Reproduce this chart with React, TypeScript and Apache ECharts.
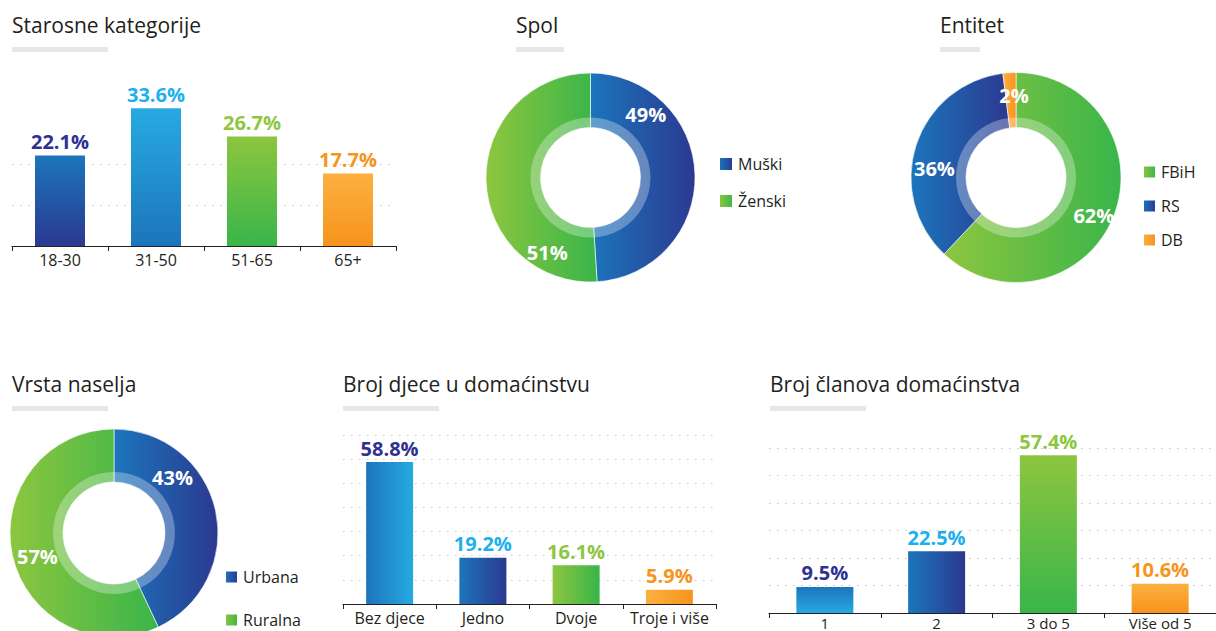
import React, { useEffect, useRef } from "react";
import * as echarts from "echarts";

// ---------- data ----------
const ageCategories = ["18-30", "31-50", "51-65", "65+"];
const ageValues = [22.1, 33.6, 26.7, 17.7];

const genderNames = ["Muški", "Ženski"];
const genderValues = [49, 51];

const entityNames = ["FBiH", "RS", "DB"];
const entityValues = [62, 36, 2];

const settlementNames = ["Urbana", "Ruralna"];
const settlementValues = [43, 57];

const childrenCategories = ["Bez djece", "Jedno", "Dvoje", "Troje i više"];
const childrenValues = [58.8, 19.2, 16.1, 5.9];

const memberCategories = ["1", "2", "3 do 5", "Više od 5"];
const memberValues = [9.5, 22.5, 57.4, 10.6];

const titles = [
  "Starosne kategorije",
  "Spol",
  "Entitet",
  "Vrsta naselja",
  "Broj djece u domaćinstvu",
  "Broj članova domaćinstva",
];

// ---------- styles ----------
const FONT = "'Open Sans', 'Noto Sans', sans-serif";
const TEXT = "#231f20";
const NAVY = "#2b3990";
const BLUE = "#1c75bc";
const SKY = "#27aae1";
const LGREEN = "#8dc63f";
const DGREEN = "#39b54a";
const LORANGE = "#fbb040";
const DORANGE = "#f7941d";
const LABEL_COLORS = ["#2e3192", "#1cb1ec", "#8dc63f", "#f7941d"];
const GRID_DOT = "#c4c5c7";
const NONE = "rgba(0,0,0,0)";

const vgrad = (top: string, bottom: string) => ({
  type: "linear", x: 0, y: 0, x2: 0, y2: 1,
  colorStops: [{ offset: 0, color: top }, { offset: 1, color: bottom }],
});
const hgrad = (left: string, right: string) => ({
  type: "linear", x: 0, y: 0, x2: 1, y2: 0,
  colorStops: [{ offset: 0, color: left }, { offset: 1, color: right }],
});

const ageFills = [vgrad(BLUE, NAVY), vgrad(SKY, BLUE), vgrad(LGREEN, DGREEN), vgrad(LORANGE, DORANGE)];
const childrenFills = [hgrad(BLUE, SKY), hgrad(BLUE, NAVY), hgrad(LGREEN, DGREEN), hgrad(LORANGE, DORANGE)];
const memberFills = [vgrad(BLUE, SKY), hgrad(BLUE, NAVY), vgrad(LGREEN, DGREEN), vgrad(LORANGE, DORANGE)];

const genderFills = [hgrad(BLUE, NAVY), hgrad(LGREEN, DGREEN)];
const entityFills = [hgrad(LGREEN, DGREEN), hgrad(BLUE, NAVY), hgrad(LORANGE, DORANGE)];
const settlementFills = [hgrad(BLUE, NAVY), hgrad(LGREEN, DGREEN)];

// label nudges (pixels) from the default inside position
const genderNudge = [[-25, -60], [37, 72]];
const entityNudge = [[3, 8], [-5, 16], [3, -2]];
const settlementNudge = [[-20, -38], [2, 6]];

function barSeries(idx: number, values: number[], fills: any[], barWidth: number) {
  return {
    type: "bar",
    xAxisIndex: idx,
    yAxisIndex: idx,
    barWidth,
    data: values.map((v, i) => ({
      value: v,
      itemStyle: { color: fills[i] },
      label: { color: LABEL_COLORS[i] },
    })),
    label: {
      show: true,
      position: "top",
      distance: 4,
      formatter: (p: any) => p.value + "%",
      fontSize: 20,
      fontWeight: "bold",
      fontFamily: FONT,
    },
  };
}

function donut(center: number[], radius: number[], names: string[], values: number[], fills: any[], nudge: number[][]) {
  return [
    {
      type: "pie",
      center,
      radius,
      startAngle: 90,
      clockwise: true,
      avoidLabelOverlap: false,
      itemStyle: { borderColor: "#ffffff", borderWidth: 0.6 },
      label: {
        show: true,
        position: "inside",
        formatter: (p: any) => p.value + "%",
        color: "#ffffff",
        fontSize: 20,
        fontWeight: "bold",
        fontFamily: FONT,
      },
      labelLine: { show: false },
      labelLayout: (p: any) => ({ dx: nudge[p.dataIndex][0], dy: nudge[p.dataIndex][1] }),
      data: names.map((n, i) => ({ name: n, value: values[i], itemStyle: { color: fills[i] } })),
    },
    {
      type: "pie",
      center,
      radius: [radius[0], radius[0] + 10],
      silent: true,
      label: { show: false },
      labelLine: { show: false },
      z: 3,
      data: [{ name: "ring", value: 1, itemStyle: { color: "rgba(255,255,255,0.3)" } }],
    },
  ];
}

function xAxis(idx: number, data: string[], margin: number, fontSize: number) {
  return {
    gridIndex: idx,
    type: "category",
    data,
    axisLine: { lineStyle: { color: TEXT, width: 1 } },
    axisTick: { show: true, length: 5, lineStyle: { color: TEXT } },
    axisLabel: { interval: 0, fontSize, lineHeight: fontSize, color: TEXT, margin, fontFamily: FONT },
  };
}

function yAxis(idx: number, max: number, colors: string[]) {
  return {
    gridIndex: idx,
    type: "value",
    min: 0,
    max,
    interval: 10,
    axisLabel: { show: false },
    axisLine: { show: false },
    axisTick: { show: false },
    splitLine: { show: true, showMinLine: true, lineStyle: { color: colors, type: [1.5, 6.5], width: 1 } },
  };
}

function legend(data: string[], left: number, top: number, size: number, gap: number) {
  return {
    data,
    orient: "vertical",
    left,
    top,
    padding: 0,
    icon: "rect",
    itemWidth: size,
    itemHeight: size,
    itemGap: gap,
    selectedMode: false,
    textStyle: { fontSize: 16, lineHeight: 16, color: TEXT, fontFamily: FONT, padding: [0, 0, 0, 0] },
  };
}

const titlePos = [
  [12, 14], [516, 14], [940, 14],
  [12, 373], [343, 373], [770, 373],
];
const underlines = [
  [12, 47, 96], [516, 47, 48], [940, 47, 40],
  [12, 406, 96], [343, 406, 96], [770, 406, 96],
];

export default function App() {
  const ref = useRef<HTMLDivElement>(null);
  useEffect(() => {
    if (!ref.current) return;
    const chart = echarts.init(ref.current, null, { renderer: "svg" });
    const option: any = {
      animation: false,
      backgroundColor: "#ffffff",
      textStyle: { fontFamily: FONT },
      title: titles.map((t, i) => ({
        text: t,
        left: titlePos[i][0],
        top: titlePos[i][1],
        padding: 0,
        textStyle: { fontSize: 21, fontWeight: "normal", color: TEXT, fontFamily: FONT },
      })),
      graphic: underlines.map((u) => ({
        type: "rect",
        shape: { x: u[0], y: u[1], width: u[2], height: 5 },
        style: { fill: "#e6e7e8" },
        silent: true,
      })),
      legend: [
        legend(genderNames, 718, 156, 14, 21),
        legend(entityNames, 1142, 164, 13, 18),
        legend(settlementNames, 224, 569, 13, 27),
      ],
      grid: [
        { left: 12, top: 82, width: 384, height: 164 },
        { left: 343, top: 435, width: 373, height: 169 },
        { left: 769, top: 448, width: 453, height: 165 },
      ],
      xAxis: [
        xAxis(0, ageCategories, 6, 16),
        xAxis(1, childrenCategories, 6, 16),
        xAxis(2, memberCategories, 2, 15),
      ],
      yAxis: [
        yAxis(0, 40, [NONE, GRID_DOT, GRID_DOT, NONE, NONE]),
        yAxis(1, 70, [NONE, GRID_DOT, GRID_DOT, GRID_DOT, GRID_DOT, GRID_DOT, GRID_DOT, GRID_DOT]),
        yAxis(2, 60, [NONE, GRID_DOT, GRID_DOT, GRID_DOT, GRID_DOT, GRID_DOT, GRID_DOT]),
      ],
      series: [
        barSeries(0, ageValues, ageFills, 50),
        barSeries(1, childrenValues, childrenFills, 47),
        barSeries(2, memberValues, memberFills, 57),
        ...donut([590.5, 177.5], [50, 104.5], genderNames, genderValues, genderFills, genderNudge),
        ...donut([1016, 177.5], [50, 105], entityNames, entityValues, entityFills, entityNudge),
        ...donut([114, 533], [51, 104], settlementNames, settlementValues, settlementFills, settlementNudge),
      ],
    };
    chart.setOption(option);
    return () => chart.dispose();
  }, []);
  return (
    <div
      ref={ref}
      style={{ position: "fixed", left: 0, top: 0, width: 1216, height: 631, background: "#fff" }}
    />
  );
}
